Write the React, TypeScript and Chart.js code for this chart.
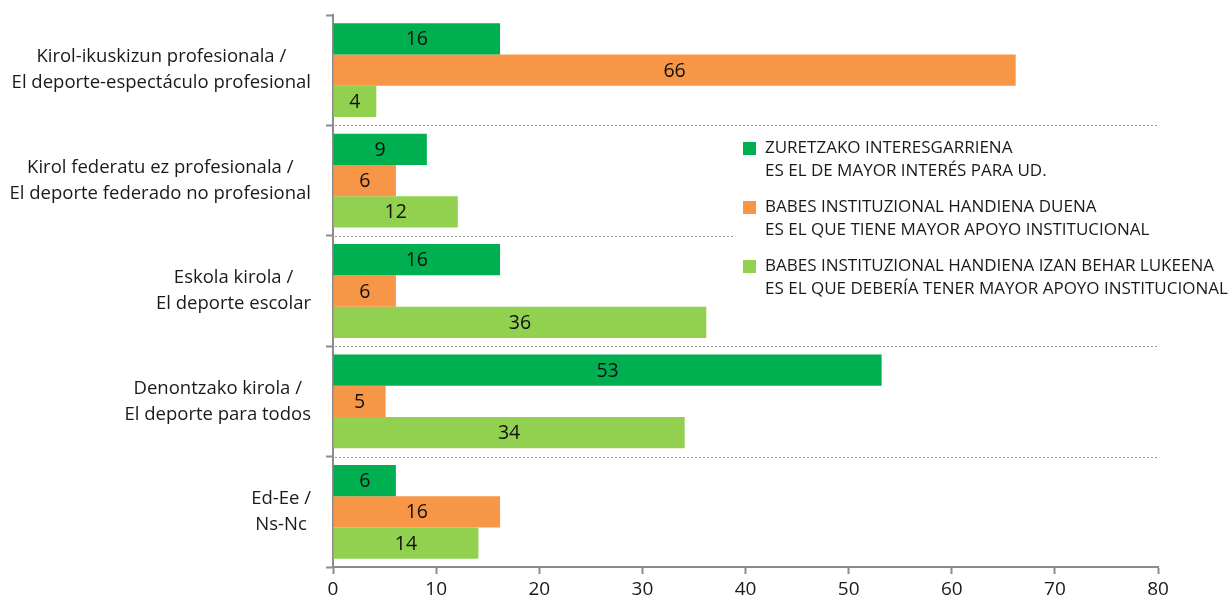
import React, { useEffect, useRef } from "react";
import { Chart, registerables } from "chart.js";

Chart.register(...registerables);

const categories: string[][] = [
  ["Kirol-ikuskizun profesionala /", "El deporte-espectáculo profesional"],
  ["Kirol federatu ez profesionala /", "El deporte federado no profesional"],
  ["Eskola kirola /", "El deporte escolar"],
  ["Denontzako kirola /", "El deporte para todos"],
  ["Ed-Ee /", "Ns-Nc"],
];

const seriesNames: string[][] = [
  ["ZURETZAKO INTERESGARRIENA", "ES EL DE MAYOR INTERÉS PARA UD."],
  ["BABES INSTITUZIONAL HANDIENA DUENA", "ES EL QUE TIENE MAYOR APOYO INSTITUCIONAL"],
  ["BABES INSTITUZIONAL HANDIENA IZAN BEHAR LUKEENA", "ES EL QUE DEBERÍA TENER MAYOR APOYO INSTITUCIONAL"],
];

const mostInteresting = [16.2, 9.1, 16.2, 53.2, 6.1];
const mostSupported = [66.2, 6.1, 6.1, 5.1, 16.2];
const shouldBeSupported = [4.2, 12.1, 36.2, 34.1, 14.1];

const xMin = 0;
const xMax = 80;
const xStep = 10;

const colors = ["#00B050", "#F79646", "#92D050"];
const FONT = "'Open Sans'";
const TEXT = "#1a1a1a";
const AXIS = "#8c8c8c";

export default function App() {
  const canvasRef = useRef<HTMLCanvasElement | null>(null);

  useEffect(() => {
    if (!canvasRef.current) return;

    const separators = {
      id: "separators",
      beforeDatasetsDraw(chart: any) {
        const { ctx, chartArea } = chart;
        const y = chart.scales.y;
        ctx.save();
        ctx.strokeStyle = "#9a9a9a";
        ctx.lineWidth = 1;
        ctx.setLineDash([2, 2]);
        for (let i = 1; i < categories.length; i++) {
          const py = Math.round((y.getPixelForValue(i - 1) + y.getPixelForValue(i)) / 2) + 0.5;
          ctx.beginPath();
          ctx.moveTo(chartArea.left + 2, py);
          ctx.lineTo(chartArea.right, py);
          ctx.stroke();
        }
        ctx.restore();
      },
    };

    const valueLabels = {
      id: "valueLabels",
      afterDatasetsDraw(chart: any) {
        const { ctx } = chart;
        ctx.save();
        ctx.font = `19.5px ${FONT}`;
        ctx.fillStyle = "#111";
        ctx.textAlign = "center";
        ctx.textBaseline = "middle";
        chart.data.datasets.forEach((ds: any, di: number) => {
          const meta = chart.getDatasetMeta(di);
          meta.data.forEach((bar: any, i: number) => {
            const v = ds.data[i];
            ctx.fillText(String(Math.round(v)), (bar.base + bar.x) / 2, bar.y + 1);
          });
        });
        ctx.restore();
      },
    };

    const decorations = {
      id: "decorations",
      afterDraw(chart: any) {
        const { ctx } = chart;
        const y = chart.scales.y;
        ctx.save();
        // category labels
        ctx.font = `18.5px ${FONT}`;
        ctx.fillStyle = TEXT;
        ctx.textAlign = "center";
        ctx.textBaseline = "middle";
        categories.forEach((lines, i) => {
          const cy = y.getPixelForValue(i);
          const maxW = Math.max(...lines.map((l) => ctx.measureText(l).width));
          const cx = 311 - maxW / 2;
          const lh = 26;
          lines.forEach((l, li) => {
            ctx.fillText(l, cx, cy + (li - (lines.length - 1) / 2) * lh);
          });
        });
        // legend
        ctx.fillStyle = "#ffffff";
        ctx.fillRect(735, 131, 496, 170);
        ctx.font = `17px ${FONT}`;
        ctx.textAlign = "left";
        seriesNames.forEach((lines, i) => {
          const top = 142 + i * 59;
          ctx.fillStyle = colors[i];
          ctx.fillRect(743, top, 13, 13);
          ctx.fillStyle = TEXT;
          lines.forEach((l, li) => {
            ctx.fillText(l, 765, top + 6.5 + li * 23);
          });
        });
        ctx.restore();
      },
    };

    const chart = new Chart(canvasRef.current, {
      type: "bar",
      data: {
        labels: categories.map((c) => c.join(" ")),
        datasets: [
          { label: seriesNames[0].join(" "), data: mostInteresting, backgroundColor: colors[0] },
          { label: seriesNames[1].join(" "), data: mostSupported, backgroundColor: colors[1] },
          { label: seriesNames[2].join(" "), data: shouldBeSupported, backgroundColor: colors[2] },
        ],
      },
      options: {
        indexAxis: "y",
        animation: false,
        responsive: true,
        maintainAspectRatio: false,
        layout: { padding: { top: 15, right: 73, left: 0, bottom: 0 } },
        datasets: { bar: { categoryPercentage: 0.85, barPercentage: 1.0, borderWidth: 0 } },
        plugins: { legend: { display: false }, tooltip: { enabled: false } },
        scales: {
          x: {
            min: xMin,
            max: xMax,
            ticks: { stepSize: xStep, font: { family: "Open Sans", size: 19 }, color: TEXT, padding: 4 },
            grid: { drawOnChartArea: false, drawTicks: true, tickLength: 7, tickColor: AXIS, tickWidth: 2 },
            border: { color: AXIS, width: 2 },
            afterFit: (s: any) => {
              s.height = 34;
            },
          },
          y: {
            ticks: { display: false },
            grid: { offset: true, drawOnChartArea: false, drawTicks: true, tickLength: 7, tickColor: AXIS, tickWidth: 2 },
            border: { color: AXIS, width: 2 },
            afterFit: (s: any) => {
              s.width = 333;
            },
          },
        },
      } as any,
      plugins: [separators, valueLabels, decorations],
    });

    return () => chart.destroy();
  }, []);

  return (
    <div style={{ position: "absolute", left: 0, top: 0, width: "1231px", height: "601px" }}>
      <canvas ref={canvasRef} />
    </div>
  );
}
